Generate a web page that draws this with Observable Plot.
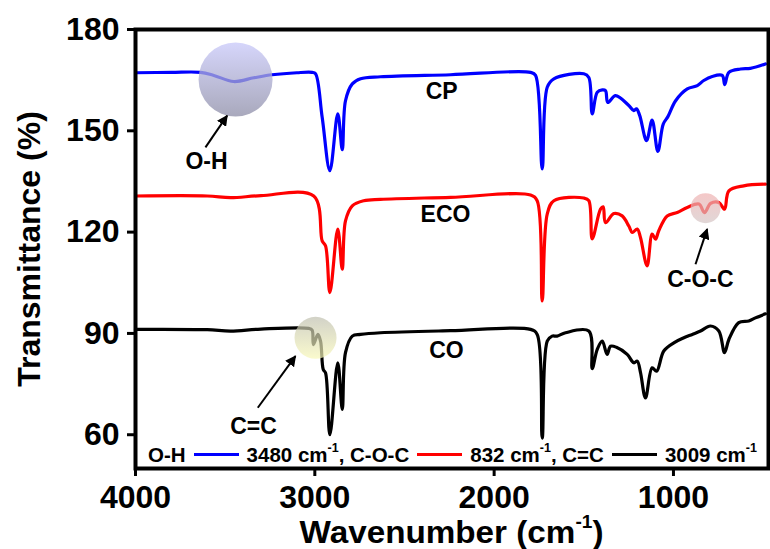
<!DOCTYPE html>
<html><head><meta charset="utf-8">
<script src="https://cdn.jsdelivr.net/npm/d3@7"></script>
<script src="https://cdn.jsdelivr.net/npm/@observablehq/plot@0.6"></script>
<style>
body{margin:0;background:#fff;}
#wrap{position:relative;width:770px;height:549px;font-family:'Liberation Sans',Arial,sans-serif;font-weight:bold;color:#000}
#wrap svg{position:absolute;left:0;top:0}
#xtitle{position:absolute;left:135px;width:633px;top:515px;height:34px;text-align:center;font-size:30.5px;line-height:34px;white-space:nowrap;transform:scaleX(1.09);transform-origin:center}
#legend{position:absolute;left:148px;top:445px;font-size:20.5px;line-height:20px;white-space:nowrap}
.sw{display:inline-block;width:45px;height:3px;vertical-align:6px;margin:0 8px 0 8px}
#xtitle sup{font-size:17.5px;line-height:0;vertical-align:15px}
#legend sup{font-size:12.5px;line-height:0;vertical-align:10px}
</style></head>
<body>
<div id="wrap"></div>
<script>
// ---- data (wavenumber cm^-1, transmittance %) ----
const cp = [[4000,167.2],[3800,167.3],[3637,167.3],[3563,166.4],[3452,164.6],[3340,165.7],[3238,166.6],[3100,167.2],[3015,167.3],[2996,166.9],[2959,154.0],[2916,138.2],[2872,155.0],[2847,144.4],[2829,158.9],[2791,163.9],[2745,165.4],[2634,166.0],[2243,166.6],[1797,167.3],[1769,166.4],[1732,138.7],[1704,162.9],[1667,165.4],[1500,166.9],[1472,165.8],[1453,155.0],[1425,161.4],[1397,162.1],[1379,161.9],[1366,158.4],[1323,160.4],[1249,157.5],[1221,156.0],[1206,156.5],[1188,154.5],[1150,147.1],[1119,153.2],[1087,143.9],[1057,152.0],[1031,154.2],[988,158.9],[923,162.4],[867,163.4],[831,164.9],[784,166.1],[728,166.4],[714,163.7],[691,167.3],[626,168.3],[571,168.5],[487,169.8]];
const eco = [[4000,130.7],[3600,130.7],[3470,130.2],[3300,130.8],[3006,130.7],[2959,117.4],[2940,115.9],[2916,102.1],[2872,120.9],[2847,109.0],[2829,123.3],[2791,127.8],[2727,129.3],[2634,129.7],[2243,130.3],[1797,131.0],[1760,129.3],[1732,99.6],[1704,125.3],[1667,129.3],[1500,130.1],[1472,129.3],[1453,118.0],[1407,126.8],[1392,127.5],[1379,122.8],[1332,125.5],[1286,124.8],[1249,121.8],[1230,119.9],[1202,120.9],[1184,118.4],[1147,110.0],[1119,119.4],[1100,117.9],[1082,120.4],[1035,124.8],[979,125.8],[923,127.3],[858,128.3],[827,125.8],[793,128.5],[747,128.8],[715,126.8],[691,132.2],[608,133.7],[487,134.2]];
const co = [[4000,91.2],[3600,91.1],[3470,90.7],[3300,91.3],[3034,91.5],[3015,91.0],[3008,86.7],[2983,89.7],[2968,87.7],[2953,79.3],[2940,78.3],[2916,60.0],[2872,81.3],[2847,67.5],[2829,84.3],[2791,89.2],[2745,89.7],[2634,90.2],[2243,90.8],[1797,91.2],[1760,89.7],[1732,59.0],[1704,87.7],[1677,89.2],[1649,89.2],[1602,90.2],[1472,90.7],[1453,79.6],[1425,85.3],[1397,87.7],[1370,83.8],[1351,86.2],[1318,85.9],[1258,83.8],[1221,81.3],[1202,81.8],[1184,78.5],[1156,70.9],[1119,79.8],[1094,78.8],[1054,84.8],[998,87.2],[942,88.7],[895,89.7],[849,90.7],[794,92.2],[747,90.7],[715,84.3],[691,88.2],[636,93.2],[580,93.7],[543,94.6],[487,95.8]];
const seriesNames = ["CP","ECO","CO"];
const seriesColors = ["#0000ff","#ff0000","#000000"];
const xTicks = [4000,3000,2000,1000];
const yTicks = [60,90,120,150,180];
// annotation anchors (data units)
const circleWn = [3442, 821, 2996];
const circleT = [165.2, 127.1, 88.7];
const arrowFromWn = [3610, 877, 3318];
const arrowFromT = [145.1, 110.5, 68.0];
const arrowToWn = [3489, 812, 3108];
const arrowToT = [154.5, 120.9, 83.3];
const labelTexts = ["CP","ECO","CO","O-H","C-O-C","C=C"];
const labelWn = [2293, 2271, 2266, 3604, 850, 3342];
const labelT = [161.6, 125.1, 84.8, 141.0, 106.0, 62.5];
const legendItems = [["O-H",""],["3480","C-O-C"],["832","C=C"],["3009",""]];

const rows = [];
[cp, eco, co].forEach((arr, i) => arr.forEach(([wn, t]) => rows.push({series: seriesNames[i], wn, t})));
const arrows = arrowFromWn.map((w, i) => ({x1: w, y1: arrowFromT[i], x2: arrowToWn[i], y2: arrowToT[i]}));
const labels = labelTexts.map((s, i) => ({s, wn: labelWn[i], t: labelT[i]}));
const circ = i => [{wn: circleWn[i], t: circleT[i]}];

const plot = Plot.plot({
  width: 770, height: 549,
  marginLeft: 135, marginRight: 2, marginTop: 29, marginBottom: 81,
  style: {fontFamily: "'Liberation Sans', Arial, sans-serif", fontWeight: "bold", background: "transparent", color: "#000"},
  x: {domain: [4000, 470]},
  y: {domain: [50, 180]},
  color: {domain: seriesNames, range: seriesColors},
  marks: [
    Plot.line(rows, {x: "wn", y: "t", z: "series", stroke: "series", strokeWidth: 3.2, curve: "catmull-rom"}),
    Plot.dot(circ(0), {x: "wn", y: "t", r: 37, fill: "url(#gOH)", fillOpacity: 0.75, stroke: "none"}),
    Plot.dot(circ(1), {x: "wn", y: "t", r: 15, fill: "url(#gCOC)", fillOpacity: 0.7, stroke: "none"}),
    Plot.dot(circ(2), {x: "wn", y: "t", r: 21, fill: "url(#gCC)", fillOpacity: 0.7, stroke: "none"}),
    Plot.link(arrows, {x1: "x1", y1: "y1", x2: "x2", y2: "y2", stroke: "#000", strokeWidth: 2, className: "annot-arrow"}),
    Plot.text(labels, {x: "wn", y: "t", text: "s", fontSize: 23, fontWeight: "bold", fill: "#000"}),
    Plot.frame({stroke: "#000", strokeWidth: 4}),
    Plot.axisX({ticks: xTicks, tickFormat: d => String(d), tickSize: 8, tickPadding: 9, fontSize: 32, fontWeight: "bold", strokeWidth: 3, label: null}),
    Plot.axisY({ticks: yTicks, tickFormat: d => String(d), tickSize: 8, tickPadding: 8, fontSize: 32, fontWeight: "bold", strokeWidth: 3, label: null}),
    Plot.text(["Transmittance (%)"], {frameAnchor: "left", textAnchor: "middle", dx: -106, rotate: -90, text: d => d, fontSize: 32, fontWeight: "bold", fill: "#000"})
  ]
});

d3.select(plot).insert("defs", ":first-child").html(`
  <linearGradient id="gOH" x1="0" y1="0" x2="0" y2="1"><stop offset="0" stop-color="rgb(200,200,250)"/><stop offset="1" stop-color="rgb(140,140,166)"/></linearGradient>
  <linearGradient id="gCOC" x1="0" y1="0" x2="0" y2="1"><stop offset="0" stop-color="rgb(240,176,176)"/><stop offset="1" stop-color="rgb(212,198,198)"/></linearGradient>
  <linearGradient id="gCC" x1="0" y1="0" x2="0" y2="1"><stop offset="0" stop-color="rgb(191,191,176)"/><stop offset="1" stop-color="rgb(248,248,184)"/></linearGradient>
  <marker id="ahead" viewBox="0 0 10 10" refX="9" refY="5" markerWidth="5.5" markerHeight="5.5" orient="auto" markerUnits="strokeWidth"><path d="M0,0L10,5L0,10z" fill="#000"/></marker>`);
d3.select(plot).selectAll(".annot-arrow path").attr("marker-end", "url(#ahead)");

const wrap = document.getElementById("wrap");
wrap.appendChild(plot);

const xt = document.createElement("div");
xt.id = "xtitle";
xt.innerHTML = "Wavenumber (cm<sup>-1</sup>)";
wrap.appendChild(xt);

const lg = document.createElement("div");
lg.id = "legend";
lg.innerHTML = `${legendItems[0][0]}<span class="sw" style="background:${seriesColors[0]}"></span>`
  + `${legendItems[1][0]} cm<sup>-1</sup>, ${legendItems[1][1]}<span class="sw" style="background:${seriesColors[1]}"></span>`
  + `${legendItems[2][0]} cm<sup>-1</sup>, ${legendItems[2][1]}<span class="sw" style="background:${seriesColors[2]}"></span>`
  + `${legendItems[3][0]} cm<sup>-1</sup>`;
wrap.appendChild(lg);
</script>
</body></html>
